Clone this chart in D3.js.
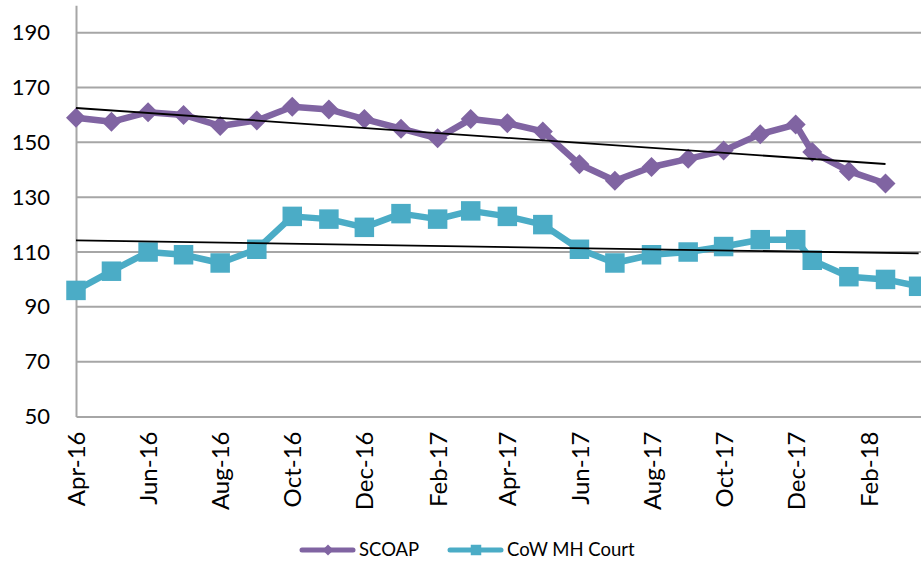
<!DOCTYPE html>
<html>
<head>
<meta charset="utf-8">
<script src="https://cdn.jsdelivr.net/npm/d3@7"></script>
<style>
  body { margin: 0; background: #fff; }
  text { font-family: Lato, "Open Sans", sans-serif; fill: #000; }
</style>
</head>
<body>
<svg class="chart" width="921" height="562"></svg>
<script>
// monthly readings, the last few are mid month
var dates = ["2016-04-01", "2016-05-01", "2016-06-01", "2016-07-01", "2016-08-01", "2016-09-01",
             "2016-10-01", "2016-11-01", "2016-12-01", "2017-01-01", "2017-02-01", "2017-03-01",
             "2017-04-01", "2017-05-01", "2017-06-01", "2017-07-01", "2017-08-01", "2017-09-01",
             "2017-10-01", "2017-11-01", "2017-12-01", "2017-12-15", "2018-01-15", "2018-02-15",
             "2018-03-15"];
var scoap = [159, 157.5, 161, 160, 156, 158, 163, 162, 158.5, 155, 151.5, 158.5,
             157, 154, 142, 136, 141, 144, 147, 153, 156.5, 146.5, 139.5, 135];
var cow = [96, 103, 110, 109, 106, 111, 123, 122, 119, 124, 122, 125,
           123, 120, 111, 106, 109, 110, 112, 114.5, 114.5, 107, 101, 100, 97.5];
var seriesNames = ["SCOAP", "CoW MH Court"];
var yTicks = [50, 70, 90, 110, 130, 150, 170, 190];
var xTicks = ["2016-04-01", "2016-06-01", "2016-08-01", "2016-10-01", "2016-12-01", "2017-02-01",
              "2017-04-01", "2017-06-01", "2017-08-01", "2017-10-01", "2017-12-01", "2018-02-01"];

var svg = d3.select(".chart"),
    width = +svg.attr("width"),
    height = +svg.attr("height");

var parse = d3.utcParse("%Y-%m-%d");
var purple = "#8064a2", teal = "#4bacc6", grid = "#a6a6a6";

// axis runs to Apr-18, which is past the right edge of the picture
var x = d3.scaleUtc()
    .domain([parse("2016-04-01"), parse("2018-04-01")])
    .range([76, 938.7]);
var y = d3.scaleLinear().domain([50, 200]).range([416.5, 5.3]);

// horizontal gridlines
svg.append("g")
    .selectAll("line")
    .data(yTicks.slice(1))
    .enter().append("line")
    .attr("x1", x.range()[0]).attr("x2", width)
    .attr("y1", d => y(d)).attr("y2", d => y(d))
    .attr("stroke", grid).attr("stroke-width", 2);

// y axis
var yAxis = svg.append("g")
    .attr("transform", "translate(" + x.range()[0] + ",0)")
    .call(d3.axisLeft(y).tickValues(yTicks).tickSize(0).tickPadding(26));
yAxis.select(".domain").attr("stroke", grid).attr("stroke-width", 2);
yAxis.selectAll("text").style("font-size", "22px").attr("font-family", null);

// x axis, labels turned on their side
var xAxis = svg.append("g")
    .attr("transform", "translate(0," + y(50) + ")")
    .call(d3.axisBottom(x).tickValues(xTicks.map(parse))
          .tickFormat(d3.utcFormat("%b-%y")).tickSize(0));
xAxis.select(".domain").attr("stroke", grid).attr("stroke-width", 2);
xAxis.selectAll("text")
    .attr("font-family", null)
    .style("font-size", "24px")
    .attr("text-anchor", "end")
    .attr("transform", "rotate(-90)")
    .attr("x", -15).attr("y", 0).attr("dy", "0.36em");

// simple least squares fit against day number, like the spreadsheet trendline
function trend(vals) {
  var pts = vals.map((v, i) => [(parse(dates[i]) - parse(dates[0])) / 864e5, v]);
  var mx = d3.mean(pts, p => p[0]), my = d3.mean(pts, p => p[1]);
  var b = d3.sum(pts, p => (p[0] - mx) * (p[1] - my)) / d3.sum(pts, p => (p[0] - mx) * (p[0] - mx));
  var a = my - b * mx;
  var first = pts[0][0], last = pts[pts.length - 1][0];
  return [[first, a + b * first], [last, a + b * last]].map(p =>
      [x(new Date(parse(dates[0]).getTime() + p[0] * 864e5)), y(p[1])]);
}

var line = d3.line()
    .x(d => x(d.date))
    .y(d => y(d.value));

// diamonds are squares turned 45 degrees (d3's own diamond is too tall)
var series = [
  {name: seriesNames[0], color: purple, size: 200, rot: 45,
   values: scoap.map((v, i) => ({date: parse(dates[i]), value: v})), raw: scoap},
  {name: seriesNames[1], color: teal, size: 380, rot: 0,
   values: cow.map((v, i) => ({date: parse(dates[i]), value: v})), raw: cow}
];

series.forEach(function (s) {
  svg.append("path")
      .datum(s.values)
      .attr("fill", "none")
      .attr("stroke", s.color)
      .attr("stroke-width", 6.5)
      .attr("stroke-linejoin", "round")
      .attr("d", line);

  svg.append("g")
      .selectAll("path")
      .data(s.values)
      .enter().append("path")
      .attr("transform", d => "translate(" + x(d.date) + "," + y(d.value) + ") rotate(" + s.rot + ")")
      .attr("d", d3.symbol().type(d3.symbolSquare).size(s.size))
      .attr("fill", s.color);
});

// trendlines drawn over the series
series.forEach(function (s) {
  svg.append("line")
      .datum(trend(s.raw))
      .attr("x1", d => d[0][0]).attr("y1", d => d[0][1])
      .attr("x2", d => d[1][0]).attr("y2", d => d[1][1])
      .attr("stroke", "#000")
      .attr("stroke-width", 1.8);
});

// legend
var legend = svg.append("g").attr("transform", "translate(0,550)");
var legX = [300, 448];
series.forEach(function (s, i) {
  var g = legend.append("g").attr("transform", "translate(" + legX[i] + ",0)");
  g.append("line")
      .attr("x1", 2).attr("x2", 53)
      .attr("stroke", s.color).attr("stroke-width", 5)
      .attr("stroke-linecap", "round");
  g.append("path")
      .attr("transform", "translate(28,0) rotate(" + s.rot + ")")
      .attr("d", d3.symbol().type(d3.symbolSquare).size(s.rot ? 60 : 110))
      .attr("fill", s.color);
  g.append("text")
      .attr("x", 59).attr("dy", "0.35em")
      .style("font-size", "18.5px")
      .text(s.name);
});
</script>
</body>
</html>
